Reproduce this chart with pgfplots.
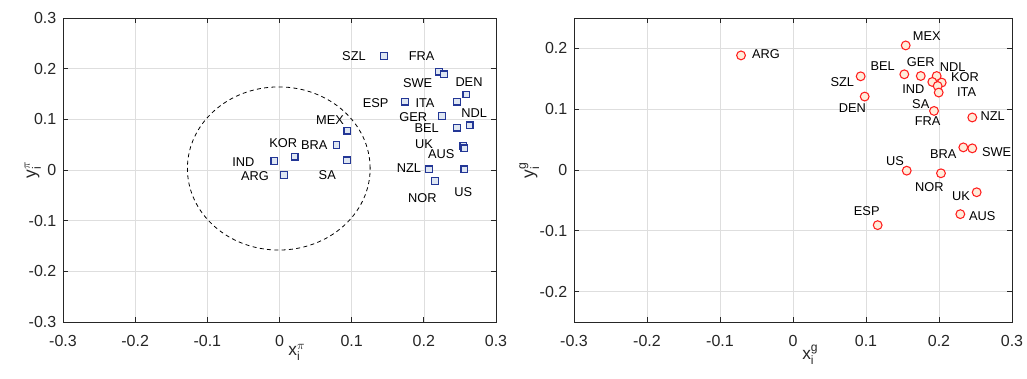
\documentclass[border=0pt]{standalone}
\usepackage{pgfplots}
\pgfplotsset{compat=1.18}
\usepackage{pgfplotstable}
\usepackage{fontspec}
\setmainfont{Liberation Sans}
\setmathrm{Liberation Sans}
\definecolor{axgray}{RGB}{38,38,38}
\definecolor{gridgray}{RGB}{222,222,222}
\definecolor{sqedge}{RGB}{35,55,150}
\definecolor{sqfill}{RGB}{222,230,242}
\definecolor{ciedge}{RGB}{255,30,30}
\definecolor{cifill}{RGB}{255,236,218}

\pgfplotstableread{
x y
0.145 0.225
0.221 0.194
0.228 0.189
0.259 0.149
0.174 0.135
0.246 0.135
0.225 0.107
0.2635 0.088
0.246 0.0835
0.094 0.0776
0.079 0.0493
0.2547 0.0474
0.256 0.0428
0.021 0.0263
-0.0072 0.0178
0.0935 0.019
0.0062 -0.0099
0.2071 0.0014
0.256 0.0014
0.2155 -0.0217
}\leftdata

\pgfplotstableread{
x y
-0.0712 0.1885
0.1544 0.2049
0.1525 0.1574
0.175 0.1546
0.1968 0.1546
0.1908 0.1448
0.2037 0.1438
0.1982 0.1382
0.1996 0.1274
0.1932 0.0972
0.0927 0.1541
0.0982 0.1208
0.2456 0.0864
0.2333 0.0372
0.2456 0.0356
0.1558 -0.0011
0.2027 -0.0054
0.2516 -0.0366
0.2292 -0.0726
0.116 -0.0907
}\rightdata

\newcommand{\lbl}{\fontsize{9.6}{11}\selectfont}
\tikzset{lblnode/.style={font=\lbl, inner sep=0pt, anchor=center}}

\pgfplotsset{
  common/.style={
    scale only axis,
    height=228pt,
    xmin=-0.3, xmax=0.3,
    xtick={-0.3,-0.2,-0.1,0,0.1,0.2,0.3},
    grid=major,
    major grid style={gridgray, line width=0.5pt},
    tick align=inside,
    major tick length=3.5pt,
    axis line style={axgray, line width=0.6pt},
    tick style={axgray, line width=0.6pt},
    ticklabel style={font=\fontsize{12}{14}\selectfont, text=axgray},
    label style={font=\fontsize{13}{15}\selectfont, text=axgray},
    /pgf/number format/assume math mode=true,
    /pgf/number format/fixed,
    /pgf/number format/precision=1,
    xticklabel style={yshift=-6.5pt},
    yticklabel style={xshift=-1.5pt},
    xlabel style={inner sep=0pt, yshift=5pt, xshift=13pt},
  },
}

\begin{document}
\begin{tikzpicture}
\path[use as bounding box] (0,0) rectangle (770.25pt,283.5pt);

\begin{axis}[common,
  at={(47.25pt,42pt)}, anchor=south west,
  width=324.75pt,
  ymin=-0.3, ymax=0.3,
  ytick={-0.3,-0.2,-0.1,0,0.1,0.2,0.3},
  xlabel={$\mathrm{x}_{\mathrm{i}}^{\pi}$},
  ylabel={$\mathrm{y}_{\mathrm{i}}^{\pi}$},
  ylabel style={yshift=-16pt},
  clip=false,
]
\draw[black, line width=0.6pt, dash pattern=on 3pt off 2.5pt] (axis cs:-0.001,0.003) ellipse [x radius=0.1266, y radius=0.161];
\addplot[only marks, mark=square*, mark size=2.5pt, mark options={draw=sqedge, fill=sqfill, line width=0.9pt}] table[x=x,y=y] {\leftdata};
\node[lblnode] at (axis cs:0.1032,0.225) {SZL};
\node[lblnode] at (axis cs:0.197,0.225) {FRA};
\node[lblnode] at (axis cs:0.1915,0.1711) {SWE};
\node[lblnode] at (axis cs:0.2626,0.1731) {DEN};
\node[lblnode] at (axis cs:0.1333,0.1328) {ESP};
\node[lblnode] at (axis cs:0.2016,0.1328) {ITA};
\node[lblnode] at (axis cs:0.1854,0.1052) {GER};
\node[lblnode] at (axis cs:0.2699,0.1119) {NDL};
\node[lblnode] at (axis cs:0.204,0.0823) {BEL};
\node[lblnode] at (axis cs:0.07,0.0987) {MEX};
\node[lblnode] at (axis cs:0.0053,0.0527) {KOR};
\node[lblnode] at (axis cs:0.0482,0.0493) {BRA};
\node[lblnode] at (axis cs:0.2002,0.0507) {UK};
\node[lblnode] at (axis cs:0.2242,0.0316) {AUS};
\node[lblnode] at (axis cs:0.0662,-0.0099) {SA};
\node[lblnode] at (axis cs:0.1794,0.0034) {NZL};
\node[lblnode] at (axis cs:0.1979,-0.0547) {NOR};
\node[lblnode] at (axis cs:0.2547,-0.0428) {US};
\node[lblnode] at (axis cs:-0.0502,0.0164) {IND};
\node[lblnode] at (axis cs:-0.034,-0.0118) {ARG};
\end{axis}

\begin{axis}[common,
  at={(430.5pt,42pt)}, anchor=south west,
  width=328.5pt,
  ymin=-0.25, ymax=0.25,
  ytick={-0.2,-0.1,0,0.1,0.2},
  xlabel={$\mathrm{x}_{\mathrm{i}}^{\mathrm{g}}$},
  ylabel={$\mathrm{y}_{\mathrm{i}}^{\mathrm{g}}$},
  ylabel style={yshift=-6.5pt},
  clip=false,
]
\addplot[only marks, mark=*, mark size=3.3pt, mark options={draw=ciedge, fill=cifill, line width=0.8pt}] table[x=x,y=y] {\rightdata};
\node[lblnode] at (axis cs:-0.037,0.1902) {ARG};
\node[lblnode] at (axis cs:0.1832,0.2202) {MEX};
\node[lblnode] at (axis cs:0.1229,0.171) {BEL};
\node[lblnode] at (axis cs:0.175,0.1775) {GER};
\node[lblnode] at (axis cs:0.2188,0.1693) {NDL};
\node[lblnode] at (axis cs:0.2356,0.152) {KOR};
\node[lblnode] at (axis cs:0.0675,0.1448) {SZL};
\node[lblnode] at (axis cs:0.1648,0.1328) {IND};
\node[lblnode] at (axis cs:0.2379,0.1274) {ITA};
\node[lblnode] at (axis cs:0.0812,0.1011) {DEN};
\node[lblnode] at (axis cs:0.175,0.1077) {SA};
\node[lblnode] at (axis cs:0.1845,0.0808) {FRA};
\node[lblnode] at (axis cs:0.2736,0.0885) {NZL};
\node[lblnode] at (axis cs:0.2059,0.0262) {BRA};
\node[lblnode] at (axis cs:0.279,0.03) {SWE};
\node[lblnode] at (axis cs:0.1397,0.0152) {US};
\node[lblnode] at (axis cs:0.1867,-0.0274) {NOR};
\node[lblnode] at (axis cs:0.2301,-0.0426) {UK};
\node[lblnode] at (axis cs:0.2593,-0.0766) {AUS};
\node[lblnode] at (axis cs:0.101,-0.0683) {ESP};
\end{axis}
\end{tikzpicture}
\end{document}
